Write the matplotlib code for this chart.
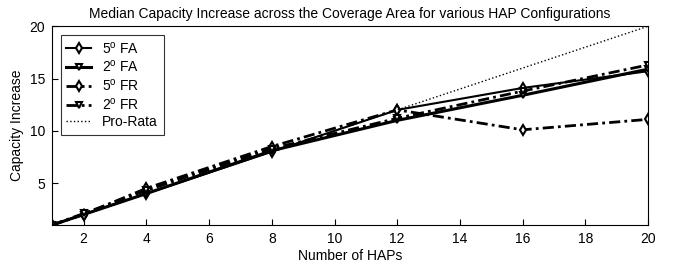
import matplotlib
matplotlib.use("Agg")
import matplotlib.pyplot as plt

plt.rcParams['font.family'] = ['Liberation Sans', 'DejaVu Sans']

haps = [1, 2, 4, 8, 12, 16, 20]
fa5 = [1, 2, 4, 8, 12, 14.1, 15.7]
fa2 = [1, 2, 4, 8.1, 11, 13.4, 15.9]
fr5 = [1, 2, 4.5, 8.5, 12, 10.1, 11.1]
fr2 = [1, 2.1, 4.3, 8.3, 11.2, 13.8, 16.3]
pro_rata = [1, 20]

fig = plt.figure(figsize=(6.78, 2.65), dpi=100)
ax = fig.add_axes([0.077, 0.151, 0.879, 0.75])

mk = dict(markerfacecolor='white', markeredgecolor='black', markeredgewidth=1.5, markersize=5)
dashdot = (0, (4, 1.5, 1, 1.5))
ax.plot(haps, fa5, '-', color='black', lw=1.5, marker='d', label='5$^{\\mathregular{o}}$ FA', **mk)
ax.plot(haps, fa2, '-', color='black', lw=2.2, marker='v', label='2$^{\\mathregular{o}}$ FA', **mk)
ax.plot(haps, fr5, linestyle=dashdot, color='black', lw=2.0, marker='d', label='5$^{\\mathregular{o}}$ FR', **mk)
ax.plot(haps, fr2, linestyle=dashdot, color='black', lw=2.0, marker='v', label='2$^{\\mathregular{o}}$ FR', **mk)
ax.plot(pro_rata, pro_rata, ':', color='black', lw=1.0, label='Pro-Rata')

ax.set_xlim(1, 20)
ax.set_ylim(1, 20)
ax.set_xticks([2, 4, 6, 8, 10, 12, 14, 16, 18, 20])
ax.set_yticks([5, 10, 15, 20])
ax.tick_params(direction='in', labelsize=10, length=4, pad=5)
for s in ax.spines.values():
    s.set_linewidth(0.8)

ax.set_title('Median Capacity Increase across the Coverage Area for various HAP Configurations', fontsize=10)
ax.set_xlabel('Number of HAPs', fontsize=10, labelpad=2)
ax.set_ylabel('Capacity Increase', fontsize=10)

leg = ax.legend(loc='upper left', fontsize=10, fancybox=False, edgecolor='black',
                handlelength=1.8, borderaxespad=0.6, labelspacing=0.2)
leg.get_frame().set_linewidth(0.8)

fig.savefig('out.png', dpi=100)
